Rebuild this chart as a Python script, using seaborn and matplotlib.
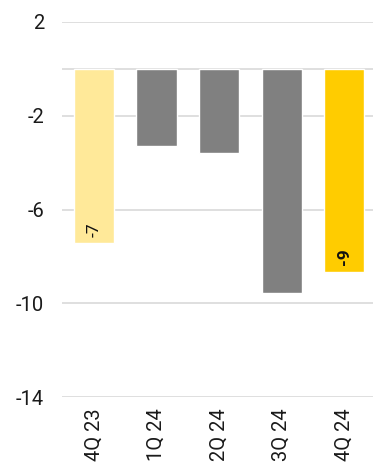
import matplotlib
matplotlib.use("Agg")
import matplotlib.pyplot as plt
import seaborn as sns
import pandas as pd

quarters = ["4Q 23", "1Q 24", "2Q 24", "3Q 24", "4Q 24"]
values = [-7.44, -3.28, -3.57, -9.55, -8.65]
bar_colors = ["#FFE999", "#808080", "#808080", "#808080", "#FFCC00"]
labelled = {0: "normal", 4: "bold"}
y_ticks = [2, -2, -6, -10, -14]

sns.set_theme(style="white")
plt.rcParams["font.family"] = ["Roboto", "DejaVu Sans"]

df = pd.DataFrame({"quarter": quarters, "value": values})

fig = plt.figure(figsize=(3.73, 4.66), dpi=100)
ax = fig.add_axes([0.1662, 0.148, 0.8338, 0.8048])

sns.barplot(data=df, x="quarter", y="value", hue="quarter", palette=bar_colors,
            width=0.64, saturation=1, legend=False, ax=ax)

ax.set_ylim(-14, 2)
ax.set_xlim(-0.51, 4.46)
ax.set_yticks(y_ticks)
ax.set_yticklabels([str(t) for t in y_ticks])
ax.yaxis.grid(True, color="#d9d9d9", linewidth=1.2)
ax.axhline(0, color="#d9d9d9", linewidth=1.2, zorder=0)
ax.set_axisbelow(True)
for s in ax.spines.values():
    s.set_visible(False)
ax.set_xlabel("")
ax.set_ylabel("")
ax.tick_params(axis="y", length=0, pad=13, labelsize=14.5, labelcolor="#1a1a1a")
ax.tick_params(axis="x", length=0, pad=8, labelsize=14.5, labelcolor="#1a1a1a",
               labelrotation=90)
for lbl in ax.get_xticklabels():
    lbl.set_verticalalignment("top")

for i, weight in labelled.items():
    ax.annotate(f"{values[i]:.0f}", xy=(i, values[i]), xytext=(0, 4.5),
                textcoords="offset points", ha="center", va="bottom",
                rotation=90, fontsize=12.5, fontweight=weight, color="#111111")

fig.savefig("out.png", dpi=100)
